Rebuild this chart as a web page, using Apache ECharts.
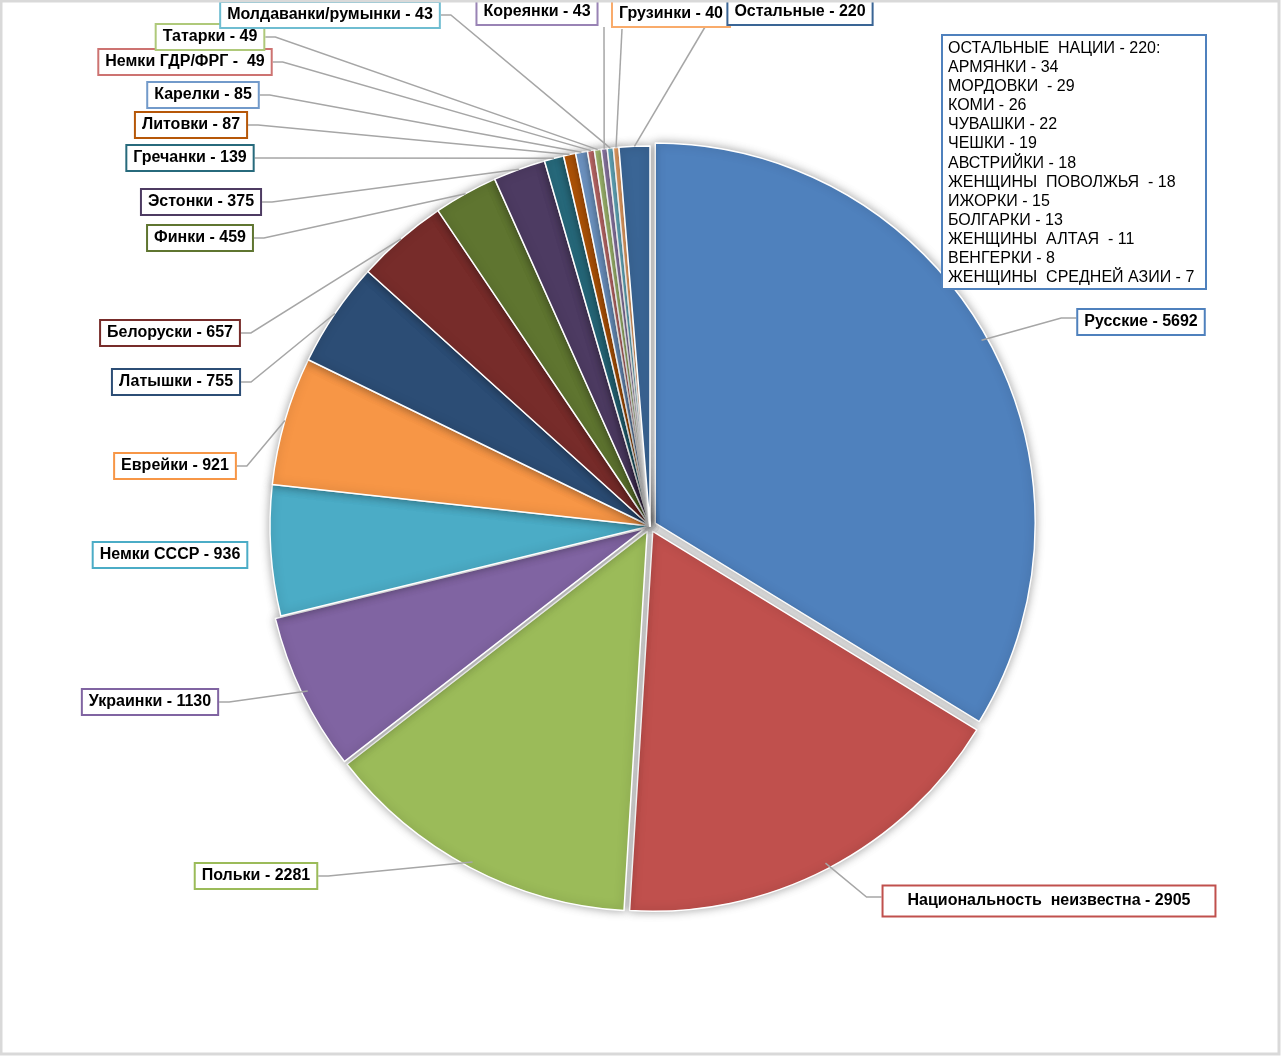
<!DOCTYPE html>
<html>
<head>
<meta charset="utf-8">
<script src="https://cdn.jsdelivr.net/npm/echarts@6/dist/echarts.min.js"></script>
<style>
html,body{margin:0;padding:0;background:#fff;}
#chart{width:1281px;height:1056px;}
</style>
</head>
<body>
<div id="chart"></div>
<script>
// ---- data ----
const categories = ['Русские','Национальность  неизвестна','Польки','Украинки','Немки СССР','Еврейки','Латышки','Белоруски','Финки','Эстонки','Гречанки','Литовки','Карелки','Немки ГДР/ФРГ','Татарки','Кореянки','Молдаванки/румынки','Грузинки','Остальные'];
const values = [5692,2905,2281,1130,936,921,755,657,459,375,139,87,85,49,49,43,43,40,220];
const colors = ['#4F81BD','#C0504D','#9BBB59','#8064A2','#4BACC6','#F79646','#2C4D75','#772C2A','#5F7530','#4D3B62','#276A7C','#B65708','#729ACA','#CD7371','#AFC97A','#9983B5','#6FBDD1','#F9AB6B','#3A6595'];
const exploded = [0,1,2,3];

const otherTitle = 'ОСТАЛЬНЫЕ  НАЦИИ';
const otherTotal = 220;
const otherNames = ['АРМЯНКИ','МОРДОВКИ ','КОМИ','ЧУВАШКИ','ЧЕШКИ','АВСТРИЙКИ','ЖЕНЩИНЫ  ПОВОЛЖЬЯ ','ИЖОРКИ','БОЛГАРКИ','ЖЕНЩИНЫ  АЛТАЯ ','ВЕНГЕРКИ','ЖЕНЩИНЫ  СРЕДНЕЙ АЗИИ'];
const otherValues = [34,29,26,22,19,18,18,15,13,11,8,7];

// ---- layout (label centres, leader attach side) ----
const labelPos = [
  [1141,322,'L'],[1049,901,'L'],[256,876,'R'],[150,702,'R'],[170,555,'N'],
  [175,466,'R'],[176,382,'R'],[170,333,'R'],[200,238,'R'],[201,202,'R'],
  [190,158,'R'],[191,125,'R'],[203,95,'R'],[185,62,'R'],[210,37,'R'],
  [537,12,'B',604],[330,15,'R'],[671,14,'B',622],[800,12,'B',705]
];
const CX = 650, CY = 526, R = 380;

const total = values.reduce((a,b)=>a+b,0);
const cum = [];
values.reduce((a,v,i)=>{cum[i]=a;return a+v;},0);

const chart = echarts.init(document.getElementById('chart'));

const sliceItems = categories.map((n,i)=>({
  name: n, value: values[i],
  selected: exploded.indexOf(i) >= 0,
  itemStyle: {color: colors[i]}
}));

const labelItems = categories.map((n,i)=>{
  const item = {name: n, value: values[i], label: {borderColor: colors[i]}};
  if (i === 1) item.label.padding = [5,24,5,24];
  if (labelPos[i][2] === 'N') item.labelLine = {show:false};
  return item;
});

const labelText = (p)=>{
  const sep = p.name === 'Немки ГДР/ФРГ' ? ' -  ' : ' - ';
  return p.name + sep + p.value;
};

const option = {
  backgroundColor: '#fff',
  animation: false,
  series: [{
    type: 'pie',
    center: [CX, CY],
    radius: [0, R],
    startAngle: 90,
    clockwise: true,
    selectedMode: 'multiple',
    selectedOffset: 6,
    silent: true,
    itemStyle: {
      borderColor: '#fff', borderWidth: 1.5,
      shadowBlur: 10, shadowColor: 'rgba(0,0,0,0.35)'
    },
    emphasis: {disabled: true},
    label: {show: false},
    labelLine: {show: false},
    data: sliceItems
  }, {
    type: 'pie',
    center: [CX, CY],
    radius: [0, R],
    startAngle: 90,
    clockwise: true,
    silent: true,
    avoidLabelOverlap: false,
    z: 3,
    itemStyle: {color: 'rgba(0,0,0,0)', borderWidth: 0},
    emphasis: {disabled: true},
    label: {
      show: true, position: 'outside',
      formatter: labelText,
      fontFamily: 'Liberation Sans, Arial, sans-serif',
      fontWeight: 'bold', fontSize: 16, color: '#000',
      lineHeight: 19,
      backgroundColor: '#fff', borderWidth: 2,
      padding: [3,6,2,6]
    },
    labelLine: {show: true, lineStyle: {color: '#A6A6A6', width: 1.5}},
    labelLayout: function (p) {
      const i = p.dataIndex;
      const L = labelPos[i];
      const w = p.labelRect.width, h = p.labelRect.height;
      const th = (cum[i] + values[i]/2) / total * 2 * Math.PI;
      let p0 = [CX + R*Math.sin(th), CY - R*Math.cos(th)];
      if (p.labelLinePoints && p.labelLinePoints[0]) p0 = p.labelLinePoints[0];
      let pts;
      if (L[2] === 'R') {
        pts = [p0, [L[0] + w/2 + 10, L[1]], [L[0] + w/2, L[1]]];
      } else if (L[2] === 'L') {
        pts = [p0, [L[0] - w/2 - 15, L[1] - 4], [L[0] - w/2, L[1] - 4]];
      } else if (L[2] === 'B') {
        pts = [p0, [L[3], L[1] + h/2 + 1], [L[3], L[1] + h/2 + 1]];
      } else {
        pts = [p0, p0, p0];
      }
      return {x: L[0], y: L[1], align: 'center', verticalAlign: 'middle', labelLinePoints: pts};
    },
    data: labelItems
  }],
  graphic: [
    {
      type: 'rect', z: 100,
      shape: {x: 942, y: 35, width: 264, height: 254},
      style: {fill: '#fff', stroke: '#4F81BD', lineWidth: 2}
    },
    {
      type: 'text', z: 101, x: 948, y: 39,
      style: {
        text: [otherTitle + ' - ' + otherTotal + ':'].concat(otherNames.map((n,i)=> n + ' - ' + otherValues[i])).join('\n'),
        font: '16px "Liberation Sans", Arial, sans-serif',
        fill: '#000', lineHeight: 19.1
      }
    },
    {
      type: 'rect', z: 200,
      shape: {x: 1, y: 1, width: 1278, height: 1053},
      style: {fill: 'none', stroke: '#D9D9D9', lineWidth: 3}
    }
  ]
};
chart.setOption(option);
</script>
</body>
</html>
